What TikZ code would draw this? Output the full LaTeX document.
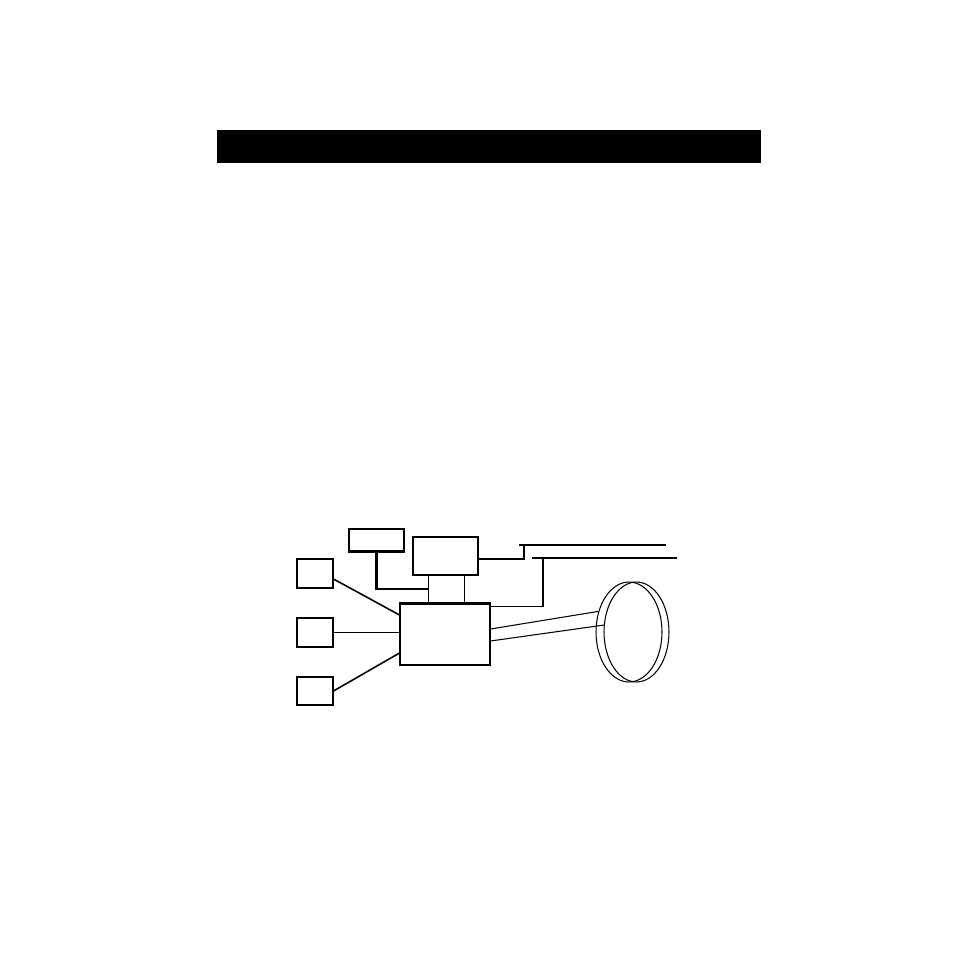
\documentclass[tikz,border=0pt]{standalone}
\usetikzlibrary{positioning,calc,shapes.geometric}
\tikzset{
  unit box/.style={draw, line width=0.6pt, inner sep=0pt},
  ring/.style={draw, ellipse, line width=0.6pt, inner sep=0pt, minimum height=2cm},
  wire/.style={line width=0.6pt},
  slant wire/.style={line width=0.9pt},
  heavy wire/.style={line width=1.2pt},
  bus/.style={line width=1.5pt}
}

\begin{document}
\begin{tikzpicture}[x=0.02cm, y=-0.02cm]

  \useasboundingbox (0,0) rectangle (954,954);

  % title bar
  \fill (217,130) rectangle (761,163);

  % boxes
  \node[unit box, minimum width=1.1cm, minimum height=0.44cm] (sens) at (376.5,540) {};
  \node[unit box, minimum width=1.3cm, minimum height=0.76cm] (ctrl) at (445.5,556) {};
  \node[inner sep=0pt, minimum width=0.7cm, minimum height=0.56cm] (neck) at (446.5,589) {};
  \node[unit box, minimum width=1.8cm, minimum height=1.22cm] (main) at (445,634.5) {};
  \node[unit box, minimum width=0.72cm, minimum height=0.58cm] (in1) at (315,573.5) {};
  \node[unit box, minimum width=0.72cm, minimum height=0.58cm] (in2) at (315,632.5) {};
  \node[unit box, minimum width=0.72cm, minimum height=0.56cm] (in3) at (315,691) {};

  % wheel
  \node[ring, minimum width=1.32cm] (ringA) at (629,632) {};
  \node[ring, minimum width=1.30cm] (ringB) at (636.5,632) {};

  % bus bars
  \coordinate (busA) at (519,545);
  \coordinate (busAend) at (666,545);
  \coordinate (busB) at (532,558);
  \coordinate (busBend) at (677,558);
  \coordinate (tapA) at (524,545);
  \coordinate (tapB) at (543,558);
  \draw[bus] (busA) -- (busAend);
  \draw[bus] (busB) -- (busBend);

  \draw[heavy wire] (sens.south west) -- (sens.south east);
  \draw[heavy wire] (main.north west) -- (main.north east);
  \draw[heavy wire] (sens.south) |- (neck.west);
  \draw[wire] (neck.north west) -- (neck.south west);
  \draw[wire] (neck.north east) -- (neck.south east);

  \draw[slant wire] ([yshift=-0.11cm]in1.east) -- ([yshift=0.39cm]main.west);
  \draw[wire] (in2.east) -- (in2.east -| main.west);
  \draw[slant wire] (in3.east) -- ([yshift=-0.37cm]main.west);

  \draw[wire] ([yshift=-0.06cm]ctrl.east) -| (tapA);
  \draw[wire] ([yshift=-0.06cm]main.north east) -| (tapB);

  \draw[wire] ([yshift=0.11cm]main.east) -- (ringA.146);
  \draw[wire] ([yshift=-0.13cm]main.east) -- (ringB.168);

\end{tikzpicture}
\end{document}
